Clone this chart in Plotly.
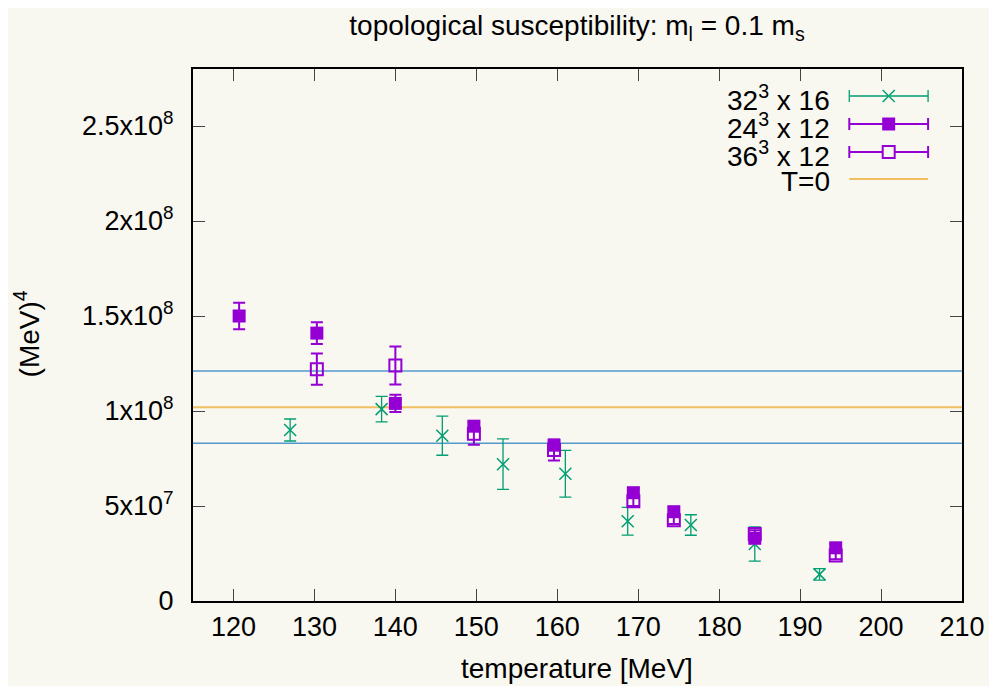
import plotly.graph_objects as go

# ---------------- data ----------------
T_32x16 = [127.0, 138.3, 145.8, 153.3, 161.0, 168.7, 176.5, 184.4, 192.4]
chi_32x16 = [0.90e8, 1.01e8, 0.87e8, 0.72e8, 0.67e8, 0.42e8, 0.40e8, 0.30e8, 0.14e8]
err_32x16 = [0.058e8, 0.067e8, 0.103e8, 0.133e8, 0.123e8, 0.073e8, 0.054e8, 0.09e8, 0.03e8]

T_24x12 = [120.7, 130.3, 140.0, 149.7, 159.6, 169.4, 174.4, 184.4, 194.4]
chi_24x12 = [1.50e8, 1.41e8, 1.04e8, 0.92e8, 0.82e8, 0.57e8, 0.47e8, 0.33e8, 0.28e8]
err_24x12 = [0.07e8, 0.057e8, 0.045e8, 0.025e8, 0.025e8, 0.025e8, 0.02e8, 0.02e8, 0.02e8]

T_36x12 = [130.3, 140.0, 149.7, 159.6, 169.4, 174.4, 184.4, 194.4]
chi_36x12 = [1.22e8, 1.24e8, 0.88e8, 0.795e8, 0.525e8, 0.425e8, 0.352e8, 0.24e8]
err_36x12 = [0.082e8, 0.10e8, 0.058e8, 0.055e8, 0.025e8, 0.02e8, 0.02e8, 0.02e8]

T0_VALUE = 1.02e8
T0_ERR = 0.19e8

X_TICKS = [120, 130, 140, 150, 160, 170, 180, 190, 200, 210]
Y_TICKS = [0, 5e7, 1e8, 1.5e8, 2e8, 2.5e8]
Y_TICK_TEXT = ["0", "5x10<sup>7</sup>", "1x10<sup>8</sup>", "1.5x10<sup>8</sup>",
               "2x10<sup>8</sup>", "2.5x10<sup>8</sup>"]
LEGEND_LABELS = ["32<sup>3</sup> x 16", "24<sup>3</sup> x 12", "36<sup>3</sup> x 12", "T=0"]

# ---------------- style ----------------
BG = "#f8f7f0"
GREEN = "#009e73"
PURPLE = "#9400d3"
ORANGE = "#f0c060"
BLUE = "#5599cc"
FONT = "Liberation Sans, Arial, sans-serif"
FS_TICK = 27
FS_TEXT = 28

# page body has an 8px margin: figure is placed at (8, 8)
OFF = 8
W, H = 997 - OFF, 686 - OFF
PL, PR, PT, PB = 193, 964, 69, 601          # plot area in window pixels
ML, MT = PL - OFF, PT - OFF
MR = W - (PR - OFF)
MB = H - (PB - OFF)
PW, PH = PR - PL, PB - PT


def px(x):
    return (x - PL) / PW


def py(y):
    return (PB - y) / PH


fig = go.Figure()

fig.add_trace(go.Scatter(
    x=T_32x16, y=chi_32x16, mode="markers",
    marker=dict(symbol="x-thin-open", size=12, color=GREEN, line=dict(color=GREEN, width=1.5)),
    error_y=dict(type="data", array=err_32x16, color=GREEN, thickness=1.3, width=6),
    showlegend=False))

fig.add_trace(go.Scatter(
    x=T_24x12, y=chi_24x12, mode="markers",
    marker=dict(symbol="square", size=13, color=PURPLE, line=dict(width=0)),
    error_y=dict(type="data", array=err_24x12, color=PURPLE, thickness=2, width=6),
    showlegend=False))

fig.add_trace(go.Scatter(
    x=T_36x12, y=chi_36x12, mode="markers",
    marker=dict(symbol="square-open", size=12, color=PURPLE, line=dict(color=PURPLE, width=2)),
    error_y=dict(type="data", array=err_36x12, color=PURPLE, thickness=2, width=6),
    showlegend=False))

# T=0 line and band (below the data marks)
for yv, col, lw in ((T0_VALUE, ORANGE, 2),
                    (T0_VALUE + T0_ERR, BLUE, 1.5),
                    (T0_VALUE - T0_ERR, BLUE, 1.5)):
    fig.add_shape(type="line", xref="x domain", yref="y", x0=0, x1=1, y0=yv, y1=yv,
                  line=dict(color=col, width=lw), layer="below")

# ---------------- legend (gnuplot style) ----------------
rows = [96, 124, 152, 179]
sx0, sx1 = 851, 930
smid = (sx0 + sx1) / 2
colors = [GREEN, PURPLE, PURPLE, ORANGE]
widths = [1.3, 2, 2, 2]
for i, (label, yrow) in enumerate(zip(LEGEND_LABELS, rows)):
    yp = py(yrow)
    fig.add_shape(type="line", xref="paper", yref="paper", x0=px(sx0), x1=px(sx1),
                  y0=yp, y1=yp, line=dict(color=colors[i], width=widths[i]), layer="above")
    if i < 3:
        for xe in (sx0, sx1):
            fig.add_shape(type="line", xref="paper", yref="paper",
                          x0=px(xe), x1=px(xe), ysizemode="pixel", yanchor=yp,
                          y0=-6, y1=6, line=dict(color=colors[i], width=widths[i]), layer="above")
    if i == 0:
        for a, b in ((-6, 6), (6, -6)):
            fig.add_shape(type="line", xref="paper", yref="paper",
                          xsizemode="pixel", xanchor=px(smid), ysizemode="pixel", yanchor=yp,
                          x0=-6, x1=6, y0=a, y1=b, line=dict(color=GREEN, width=1.5), layer="above")
    elif i == 1:
        fig.add_shape(type="rect", xref="paper", yref="paper",
                      xsizemode="pixel", xanchor=px(smid), ysizemode="pixel", yanchor=yp,
                      x0=-6.5, x1=6.5, y0=-6.5, y1=6.5, fillcolor=PURPLE, line=dict(width=0),
                      layer="above")
    elif i == 2:
        fig.add_shape(type="rect", xref="paper", yref="paper",
                      xsizemode="pixel", xanchor=px(smid), ysizemode="pixel", yanchor=yp,
                      x0=-6, x1=6, y0=-6, y1=6, fillcolor=BG, line=dict(color=PURPLE, width=2),
                      layer="above")
    fig.add_annotation(text=label, xref="paper", yref="paper", x=px(834), y=py(yrow + 2),
                       xanchor="right", yanchor="middle", showarrow=False,
                       font=dict(family=FONT, size=FS_TEXT, color="black"))

# axis titles
fig.add_annotation(text="temperature [MeV]", xref="paper", yref="paper",
                   x=px(578), y=py(668), xanchor="center", yanchor="middle", showarrow=False,
                   font=dict(family=FONT, size=FS_TEXT, color="black"))
fig.add_annotation(text="(MeV)<sup>4</sup>", xref="paper", yref="paper",
                   x=px(27), y=py(334), xanchor="center", yanchor="middle", showarrow=False,
                   textangle=-90, font=dict(family=FONT, size=FS_TEXT, color="black"))

fig.update_layout(
    width=W, height=H,
    margin=dict(l=ML, r=MR, t=MT, b=MB, pad=0),
    paper_bgcolor=BG, plot_bgcolor=BG,
    showlegend=False,
    title=dict(text="topological susceptibility: m<sub>l</sub> = 0.1 m<sub>s</sub>",
               x=px(578), xref="paper", xanchor="center",
               y=1 - (25 - OFF) / H, yref="container", yanchor="middle",
               font=dict(family=FONT, size=FS_TEXT, color="black")),
    font=dict(family=FONT, size=FS_TICK, color="black"),
)

fig.update_xaxes(range=[115, 210], tickvals=X_TICKS, ticks="inside", ticklen=12, tickwidth=1,
                 tickcolor="#444", showline=True, linecolor="black", linewidth=2, mirror="ticks",
                 showgrid=False, zeroline=False, ticklabelstandoff=1,
                 tickfont=dict(family=FONT, size=FS_TICK, color="black"))
fig.update_yaxes(range=[0, 2.8e8], tickvals=Y_TICKS, ticktext=Y_TICK_TEXT, ticks="inside",
                 ticklen=12, tickwidth=1, tickcolor="#444", showline=True, linecolor="black",
                 linewidth=2, mirror="ticks", showgrid=False, zeroline=False, ticklabelstandoff=12,
                 tickfont=dict(family=FONT, size=FS_TICK, color="black"))

fig.write_html("out.html")
